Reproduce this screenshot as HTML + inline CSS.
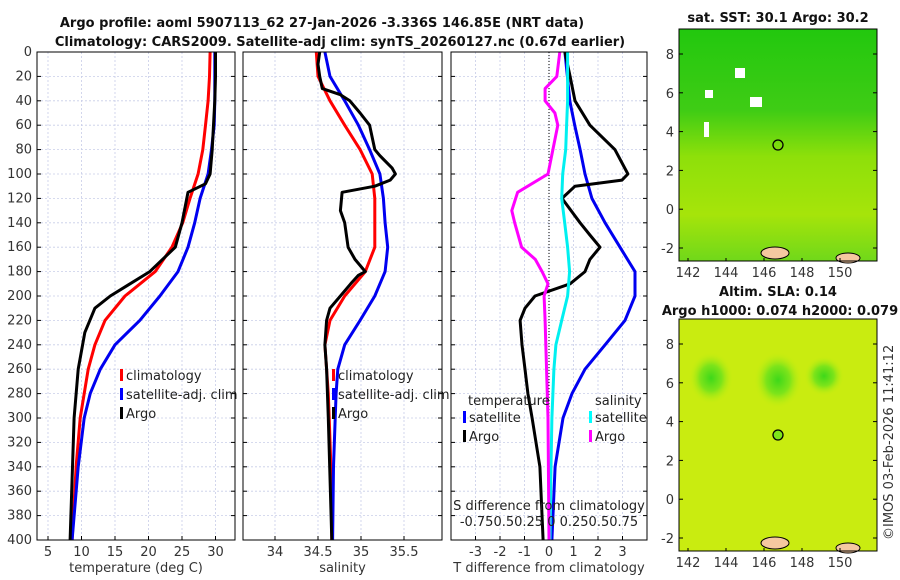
<!DOCTYPE html>
<html><head><meta charset="utf-8"><style>
body{margin:0;background:#fff;}
svg{display:block;font-family:"DejaVu Sans","Liberation Sans",sans-serif;}
.tk{font-size:13px;fill:#333;}
.tt{font-size:13px;font-weight:bold;fill:#111;}
.lg{font-size:13px;fill:#222;}
</style></head><body>
<svg id="chart" width="900" height="580" viewBox="0 0 900 580">
<defs>
<linearGradient id="sstg" x1="0" y1="0" x2="0" y2="1">
<stop offset="0" stop-color="#22c80e"/><stop offset="0.35" stop-color="#3fcc15"/><stop offset="0.55" stop-color="#8ee00a"/><stop offset="0.8" stop-color="#a6e40a"/><stop offset="1" stop-color="#70d81a"/></linearGradient>
<radialGradient id="blob"><stop offset="0" stop-color="#3ed81a"/><stop offset="0.5" stop-color="#7de41a"/><stop offset="1" stop-color="#c4ee10" stop-opacity="0"/></radialGradient>
</defs>
<text class="tt" x="322" y="27" text-anchor="middle">Argo profile: aoml 5907113_62 27-Jan-2026 -3.336S 146.85E (NRT data)</text>
<text class="tt" x="340" y="46" text-anchor="middle">Climatology: CARS2009. Satellite-adj clim: synTS_20260127.nc (0.67d earlier)</text>
<g id="p1"></g>
<g id="p2"></g>
<g id="p3"></g>

<g>
<text class="tt" x="778" y="22" text-anchor="middle">sat. SST: 30.1 Argo: 30.2</text>
<rect x="679" y="29" width="198" height="232" fill="url(#sstg)"/>
<rect x="750" y="97" width="12" height="10" fill="#fff"/><rect x="735" y="68" width="10" height="10" fill="#fff"/>
<rect x="705" y="90" width="8" height="8" fill="#fff"/><rect x="704" y="122" width="5" height="15" fill="#fff"/>
<ellipse cx="775" cy="253" rx="14" ry="6" fill="#f5c8a0" stroke="#000"/><ellipse cx="848" cy="258" rx="12" ry="5" fill="#f5c8a0" stroke="#000"/>
<circle cx="778" cy="145" r="5" fill="none" stroke="#000" stroke-width="1.3"/>
<rect x="679" y="29" width="198" height="232" fill="none" stroke="#000"/>
</g>
<g>
<text class="tt" x="778" y="296" text-anchor="middle">Altim. SLA: 0.14</text>
<text class="tt" x="780" y="315" text-anchor="middle">Argo h1000: 0.074 h2000: 0.079</text>
<rect x="679" y="319" width="198" height="232" fill="#c9ec10"/>
<ellipse cx="711" cy="378" rx="22" ry="26" fill="url(#blob)"/>
<ellipse cx="778" cy="380" rx="24" ry="28" fill="url(#blob)"/>
<ellipse cx="824" cy="376" rx="20" ry="20" fill="url(#blob)"/>
<ellipse cx="775" cy="543" rx="14" ry="6" fill="#f5c8a0" stroke="#000"/><ellipse cx="848" cy="548" rx="12" ry="5" fill="#f5c8a0" stroke="#000"/>
<circle cx="778" cy="435" r="5" fill="#7ee41a" stroke="#000" stroke-width="1.3"/>
<rect x="679" y="319" width="198" height="232" fill="none" stroke="#000"/>
</g>
<g id="maps-ticks"></g>
<text class="tk" transform="translate(893,540) rotate(-90)">©IMOS 03-Feb-2026 11:41:12</text>
</svg>
<script>
const depths=[0,20,40,60,80,100,120,140,160,180,200,220,240,260,280,300,340,400];
const tempClim=[29.2,29.1,28.9,28.5,28.1,27.4,26.2,25.1,23.5,21,16.5,13.5,12,11,10.4,9.8,9.2,8.6];
const tempSat=[29.9,29.9,29.9,29.8,29.4,28.9,27.7,26.9,25.9,24.4,21.7,18.7,15,12.8,11.3,10.4,9.5,8.6];
const argoDepths=[0,20,40,60,80,100,108,115,140,160,180,200,210,230,260,300,400];
const tempArgo=[30,30,29.9,29.7,29.5,29.2,28.5,25.9,25,24,20.2,14.3,12,10.5,9.5,8.9,8.3];
const salClim=[34.48,34.5,34.64,34.81,34.99,35.13,35.16,35.16,35.16,35.05,34.81,34.64,34.58,34.6,34.62,34.63,34.65,34.66];
const salSat=[34.58,34.64,34.81,34.97,35.1,35.22,35.26,35.28,35.31,35.28,35.16,34.99,34.81,34.73,34.71,34.7,34.68,34.67];
const salDepths=[0,10,20,30,35,40,50,60,70,80,85,95,100,105,110,115,130,140,160,170,180,183,190,200,210,220,240,260,300,400];
const salArgo=[34.52,34.5,34.52,34.55,34.76,34.87,34.99,35.1,35.13,35.16,35.22,35.36,35.4,35.34,35.16,34.78,34.76,34.81,34.85,34.93,35.05,34.97,34.88,34.76,34.64,34.6,34.58,34.6,34.62,34.66];
const dTSat=[0.65,0.75,0.85,1.05,1.27,1.47,1.75,2.29,2.9,3.51,3.51,3.1,2.29,1.47,0.94,0.57,0.25,0.12];
const dDepths=[0,20,40,60,80,100,105,110,120,140,150,160,170,180,190,200,210,220,240,260,280,300,340,400];
const dTArgo=[0.65,0.86,1.06,1.67,2.69,3.22,2.98,1.06,0.53,1.27,1.67,2.08,1.67,1.47,0.86,-0.57,-0.98,-1.18,-1.1,-0.98,-0.86,-0.69,-0.37,-0.24];
const dSSat=[0.19,0.19,0.19,0.18,0.17,0.14,0.13,0.16,0.19,0.21,0.19,0.13,0.07,0.05,0.04,0.03,0.02,0.01];
const dSDepths=[0,20,30,40,50,60,80,100,115,130,140,160,170,180,190,200,220,300,400];
const dSArgo=[0.11,0.08,-0.04,-0.04,0.06,0.09,0.04,-0.01,-0.32,-0.38,-0.35,-0.28,-0.14,-0.07,-0.01,-0.05,-0.04,-0.01,0];
const tTicks=[5,10,15,20,25,30], sTicks=[34,34.5,35,35.5], dTicks=[-3,-2,-1,0,1,2,3];
const depthTicks=[0,20,40,60,80,100,120,140,160,180,200,220,240,260,280,300,320,340,360,380,400];
const NS='http://www.w3.org/2000/svg';
const Y0=52,Y1=540;
const yD=d=>Y0+(d/400)*(Y1-Y0);
function mk(p,tag,at){const e=document.createElementNS(NS,tag);for(const k in at)e.setAttribute(k,at[k]);p.appendChild(e);return e;}
function panel(g,x0,x1,ticks,sx,fmt,xlabel){
  mk(g,'rect',{x:x0,y:Y0,width:x1-x0,height:Y1-Y0,fill:'#fff'});
  depthTicks.forEach(d=>{const l=mk(g,'line',{x1:x0,x2:x1,y1:yD(d),y2:yD(d),stroke:'#c8cde8','stroke-dasharray':'2,2','stroke-width':0.8});
    
    mk(g,'line',{x1:x0,x2:x0+4,y1:yD(d),y2:yD(d),stroke:'#000'});mk(g,'line',{x1:x1-4,x2:x1,y1:yD(d),y2:yD(d),stroke:'#000'});});
  ticks.forEach(v=>{const x=sx(v);mk(g,'line',{x1:x,x2:x,y1:Y0,y2:Y1,stroke:'#c8cde8','stroke-dasharray':'2,2','stroke-width':0.8});
    mk(g,'line',{x1:x,x2:x,y1:Y1-4,y2:Y1,stroke:'#000'});
    const t=mk(g,'text',{x:x,y:Y1+16,'text-anchor':'middle',class:'tk'});t.textContent=fmt(v);
    });
  const t=mk(g,'text',{x:(x0+x1)/2,y:572,'text-anchor':'middle',class:'tk'});t.textContent=xlabel;
  
}
function line(g,xs,ds,sx,col,name){
  const pts=xs.map((v,i)=>sx(v).toFixed(1)+','+yD(ds[i]).toFixed(1)).join(' ');
  const p=mk(g,'polyline',{points:pts,fill:'none',stroke:col,'stroke-width':3,'stroke-linejoin':'round'});
  
}
function frame(g,x0,x1){mk(g,'rect',{x:x0,y:Y0,width:x1-x0,height:Y1-Y0,fill:'none',stroke:'#000'});}
function legend(g,x,y,items){items.forEach((it,i)=>{mk(g,'rect',{x:x,y:y+i*19-11,width:3,height:12,fill:it[1]});
  const t=mk(g,'text',{x:x+6,y:y+i*19,class:'lg'});t.textContent=it[0];
  });}
const p1=document.getElementById('p1');const sx1=v=>48+(v-5)*6.7;
panel(p1,37,235,tTicks,sx1,v=>v,'temperature (deg C)');
depthTicks.forEach(d=>{const t=mk(p1,'text',{x:32,y:yD(d)+4,'text-anchor':'end',class:'tk'});t.textContent=d;
  });
line(p1,tempClim,depths,sx1,'#f00','temp-climatology-line');line(p1,tempSat,depths,sx1,'#0000f0','temp-satellite-line');line(p1,tempArgo,argoDepths,sx1,'#000','temp-argo-line');
legend(p1,120,380,[['climatology','#f00'],['satellite-adj. clim','#00f'],['Argo','#000']]);frame(p1,37,235);
const p2=document.getElementById('p2');const sx2=v=>275+(v-34)*86;
panel(p2,243,442,sTicks,sx2,v=>v,'salinity');
line(p2,salClim,depths,sx2,'#f00','sal-climatology-line');line(p2,salSat,depths,sx2,'#0000f0','sal-satellite-line');line(p2,salArgo,salDepths,sx2,'#000','sal-argo-line');
legend(p2,332,380,[['climatology','#f00'],['satellite-adj. clim','#00f'],['Argo','#000']]);frame(p2,243,442);
const p3=document.getElementById('p3');const sx3=v=>549+v*24.5;const sxs=v=>549+v*98;
panel(p3,451,647,dTicks,sx3,v=>v,'T difference from climatology');
mk(p3,'line',{x1:549,x2:549,y1:Y0,y2:Y1,stroke:'#000','stroke-dasharray':'1,2'});
line(p3,dTSat,depths,sx3,'#0000f0','dtemp-satellite-line');line(p3,dTArgo,dDepths,sx3,'#000','dtemp-argo-line');
line(p3,dSSat,depths,sxs,'#00f0f0','dsal-satellite-line');line(p3,dSArgo,dSDepths,sxs,'#f0f','dsal-argo-line');
let t=mk(p3,'text',{x:468,y:405,class:'lg'});t.textContent='temperature';
t=mk(p3,'text',{x:595,y:405,class:'lg'});t.textContent='salinity';
legend(p3,463,422,[['satellite','#00f'],['Argo','#000']]);legend(p3,589,422,[['satellite','#0ff'],['Argo','#f0f']]);
t=mk(p3,'text',{x:549,y:510,'text-anchor':'middle',class:'lg'});t.textContent='S difference from climatology';

t=mk(p3,'text',{x:549,y:526,'text-anchor':'middle',class:'lg'});t.textContent='-0.750.50.25 0  0.250.50.75';

frame(p3,451,647);
const mt=document.getElementById('maps-ticks');const lons=[142,144,146,148,150],lats=[-2,0,2,4,6,8];
[[29,261,54,248],[319,551,344,538]].forEach(m=>{
  lons.forEach(lo=>{const x=688+(lo-142)*19;mk(mt,'line',{x1:x,x2:x,y1:m[1],y2:m[1]-3,stroke:'#000'});
    const tt=mk(mt,'text',{x:x,y:m[1]+16,'text-anchor':'middle',class:'tk'});tt.textContent=lo;});
  lats.forEach(la=>{const y=m[3]-(la+2)*(m[3]-m[2])/10;mk(mt,'line',{x1:679,x2:683,y1:y,y2:y,stroke:'#000'});mk(mt,'line',{x1:873,x2:877,y1:y,y2:y,stroke:'#000'});
    const tt=mk(mt,'text',{x:674,y:y+5,'text-anchor':'end',class:'tk'});tt.textContent=la;});
});
</script>
</body></html>
